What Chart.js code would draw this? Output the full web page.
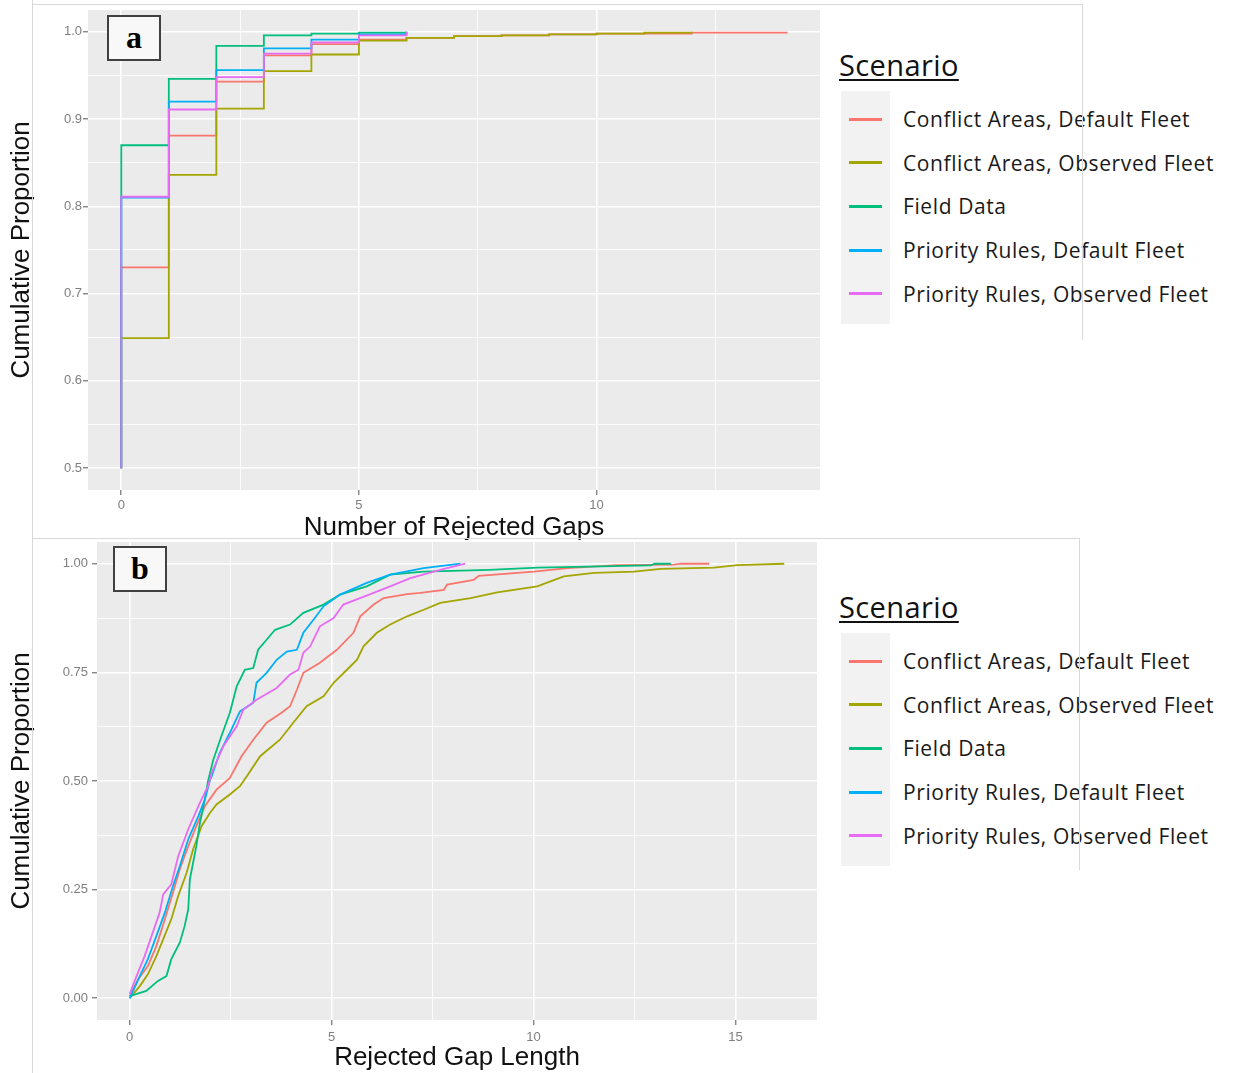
<!DOCTYPE html>
<html>
<head>
<meta charset="utf-8">
<title>Cumulative proportion of rejected gaps</title>
<script src="https://cdn.jsdelivr.net/npm/chart.js@4.4.1/dist/chart.umd.min.js"></script>
<style>
  body { margin: 0; background: #fff; }
  #wrap { position: relative; width: 1233px; height: 1073px; overflow: hidden; font-family: "Liberation Sans", Arial, sans-serif; }
  canvas { position: absolute; left: 0; }
  #chartA { top: 0; }
  #chartB { top: 538px; }
  .frame { position: absolute; background: #d9d9d9; z-index: 3; }
  .tag { position: absolute; box-sizing: border-box; width: 54px; height: 46px; border: 2px solid #404040;
         background: #f8f8f8; font: bold 32px "Liberation Serif", "Times New Roman", serif; text-align: center;
         line-height: 40px; color: #000; z-index: 4; }
  .lg-title { position: absolute; left: 839px; font: 29px "Open Sans", sans-serif; color: #111;
              text-decoration: underline; text-decoration-thickness: 1.5px; text-underline-offset: 3px;
              line-height: 34px; height: 34px; letter-spacing: 0.4px; }
  .lg-box { position: absolute; left: 841px; width: 49px; height: 233px; background: #f2f2f2; }
  .lg-key { position: absolute; left: 849px; width: 33px; height: 3px; }
  .lg-label { position: absolute; left: 903px; font: 21px "Open Sans", sans-serif; color: #1a1a1a;
              line-height: 30px; height: 30px; white-space: nowrap; letter-spacing: 0.6px; }
</style>
</head>
<body>
<div id="wrap">
  <canvas id="chartA" width="830" height="545"></canvas>
  <canvas id="chartB" width="830" height="535"></canvas>
  <div class="tag" style="left:107px; top:15px;">a</div>
  <div class="tag" style="left:113px; top:546px;">b</div>
  <div class="frame" style="left:32px; top:0; width:1px; height:1073px;"></div>
  <div class="frame" style="left:32px; top:4px; width:1050px; height:1px;"></div>
  <div class="frame" style="left:1082px; top:4px; width:1px; height:336px;"></div>
  <div class="frame" style="left:32px; top:538px; width:1048px; height:1px;"></div>
  <div class="frame" style="left:1079px; top:539px; width:1px; height:331px;"></div>
</div>
<script>
// Scenarios (legend order) and ggplot hue colours
const scenarios = [
  "Conflict Areas, Default Fleet",
  "Conflict Areas, Observed Fleet",
  "Field Data",
  "Priority Rules, Default Fleet",
  "Priority Rules, Observed Fleet"
];
const scenarioColors = ["#F8766D", "#A3A500", "#00BF7D", "#00B0F6", "#E76BF3"];

// Panel a: ECDF of the number of rejected gaps (value at 0, 1, 2, ...)
const rejectedGaps = [0, 1, 2, 3, 4, 5, 6, 7, 8, 9, 10, 11, 12, 13, 14];
const ecdfFloorA = 0.5;
const gapsConflictDefault  = [0.730, 0.881, 0.943, 0.973, 0.986, 0.991, 0.993, 0.995, 0.996, 0.997, 0.998, 0.998, 0.999, 0.999, 1.000];
const gapsConflictObserved = [0.649, 0.836, 0.912, 0.955, 0.974, 0.990, 0.993, 0.995, 0.996, 0.997, 0.998, 0.999, 1.000];
const gapsFieldData        = [0.870, 0.946, 0.984, 0.996, 0.998, 0.999, 1.000];
const gapsPriorityDefault  = [0.810, 0.920, 0.956, 0.981, 0.991, 0.997, 1.000];
const gapsPriorityObserved = [0.811, 0.911, 0.948, 0.975, 0.988, 0.996, 1.000];

// Panel b: ECDF of rejected gap length
const lenConflictDefaultX  = [0, 0.21, 0.45, 0.66, 0.87, 1.07, 1.24, 1.45, 1.65, 1.86, 2.15, 2.48, 2.77, 3.06, 3.39, 3.76, 3.97, 4.14, 4.30, 4.71, 5.13, 5.54, 5.71, 6.04, 6.29, 6.87, 7.20, 7.78, 7.86, 8.52, 8.64, 10.01, 10.84, 12.08, 13.48, 13.65, 14.35];
const lenConflictDefaultY  = [0.005, 0.044, 0.074, 0.120, 0.182, 0.243, 0.297, 0.350, 0.396, 0.442, 0.480, 0.507, 0.557, 0.595, 0.634, 0.657, 0.672, 0.710, 0.749, 0.772, 0.802, 0.841, 0.879, 0.906, 0.921, 0.930, 0.933, 0.940, 0.952, 0.963, 0.972, 0.982, 0.990, 0.997, 0.998, 1.000, 1.000];
const lenConflictObservedX = [0, 0.25, 0.45, 0.66, 0.83, 1.03, 1.20, 1.41, 1.57, 1.78, 1.99, 2.15, 2.48, 2.73, 2.90, 3.23, 3.72, 4.05, 4.38, 4.80, 5.05, 5.38, 5.63, 5.79, 6.12, 6.45, 6.87, 7.28, 7.69, 8.44, 9.10, 10.09, 10.75, 11.50, 12.49, 13.15, 14.47, 15.05, 16.21];
const lenConflictObservedY = [0, 0.028, 0.055, 0.097, 0.136, 0.182, 0.235, 0.289, 0.343, 0.396, 0.427, 0.446, 0.469, 0.488, 0.511, 0.557, 0.595, 0.634, 0.672, 0.695, 0.726, 0.756, 0.779, 0.810, 0.841, 0.860, 0.879, 0.894, 0.910, 0.921, 0.934, 0.948, 0.971, 0.979, 0.982, 0.988, 0.991, 0.997, 1.000];
const lenFieldDataX        = [0, 0.41, 0.70, 0.91, 1.03, 1.24, 1.36, 1.45, 1.49, 1.65, 1.74, 1.86, 1.94, 2.07, 2.27, 2.48, 2.65, 2.85, 3.06, 3.18, 3.39, 3.60, 3.97, 4.30, 4.80, 5.21, 5.87, 6.45, 7.28, 8.90, 10.10, 12.90, 13.00, 13.40];
const lenFieldDataY        = [0.005, 0.017, 0.040, 0.051, 0.090, 0.128, 0.166, 0.205, 0.274, 0.350, 0.404, 0.457, 0.500, 0.549, 0.603, 0.657, 0.718, 0.756, 0.760, 0.802, 0.825, 0.848, 0.860, 0.887, 0.906, 0.929, 0.948, 0.975, 0.982, 0.986, 0.991, 0.996, 1.000, 1.000];
const lenPriorityDefaultX  = [0, 0.25, 0.45, 0.66, 0.87, 1.07, 1.24, 1.45, 1.70, 1.86, 1.99, 2.03, 2.23, 2.48, 2.73, 3.06, 3.14, 3.39, 3.64, 3.89, 4.14, 4.30, 4.55, 4.80, 5.21, 5.87, 6.45, 7.28, 8.19];
const lenPriorityDefaultY  = [0, 0.051, 0.090, 0.143, 0.197, 0.258, 0.304, 0.366, 0.419, 0.457, 0.503, 0.511, 0.565, 0.611, 0.660, 0.680, 0.726, 0.749, 0.779, 0.798, 0.802, 0.841, 0.871, 0.902, 0.929, 0.956, 0.975, 0.990, 1.000];
const lenPriorityObservedX = [0, 0.17, 0.37, 0.54, 0.74, 0.83, 1.03, 1.20, 1.45, 1.74, 1.94, 2.03, 2.32, 2.65, 2.81, 3.14, 3.64, 3.97, 4.18, 4.30, 4.47, 4.71, 5.05, 5.29, 6.04, 6.45, 6.95, 7.69, 8.31];
const lenPriorityObservedY = [0.010, 0.051, 0.097, 0.143, 0.197, 0.239, 0.262, 0.327, 0.389, 0.450, 0.488, 0.519, 0.580, 0.626, 0.664, 0.687, 0.714, 0.745, 0.756, 0.795, 0.810, 0.856, 0.875, 0.906, 0.933, 0.948, 0.967, 0.986, 1.000];

// Axis ticks (major labelled, minor only as grid lines)
const gapsXMajor = [0, 5, 10];
const gapsXMinor = [2.5, 7.5, 12.5];
const gapsYMajor = [0.5, 0.6, 0.7, 0.8, 0.9, 1.0];
const gapsYMinor = [0.55, 0.65, 0.75, 0.85, 0.95];
const lenXMajor = [0, 5, 10, 15];
const lenXMinor = [2.5, 7.5, 12.5];
const lenYMajor = [0, 0.25, 0.5, 0.75, 1.0];
const lenYMinor = [0.125, 0.375, 0.625, 0.875];

const baseFont = "'Liberation Sans', Arial, sans-serif";
const tickGrey = "#7f7f7f";

// grey ggplot panel behind the chart area
const panelBg = {
  id: "panelBg",
  beforeDraw(chart) {
    const { ctx, chartArea: a } = chart;
    ctx.save();
    ctx.fillStyle = "#ebebeb";
    ctx.fillRect(a.left, a.top, a.right - a.left, a.bottom - a.top);
    ctx.restore();
  }
};

function isIn(list, v) {
  return list.some(m => Math.abs(m - v) < 1e-9);
}

function axis(opts) {
  const all = opts.major.concat(opts.minor).sort((p, q) => p - q);
  return {
    type: "linear",
    min: opts.min,
    max: opts.max,
    afterBuildTicks: s => { s.ticks = all.map(v => ({ value: v })); },
    afterFit: s => {
      if (opts.width) { s.width = opts.width; s.paddingTop = 0; s.paddingBottom = 0; }
      if (opts.height) { s.height = opts.height; s.paddingLeft = 0; s.paddingRight = 0; }
    },
    ticks: {
      autoSkip: false,
      maxRotation: 0,
      padding: opts.padding,
      color: tickGrey,
      font: { family: baseFont, size: 13 },
      callback: v => isIn(opts.major, v) ? opts.fmt(v) : ""
    },
    grid: {
      color: "#ffffff",
      lineWidth: c => isIn(opts.major, c.tick.value) ? 1.6 : 0.8,
      tickLength: 5,
      tickWidth: 1,
      tickColor: c => isIn(opts.major, c.tick.value) ? "#555555" : "rgba(0,0,0,0)"
    },
    border: { display: false },
    title: {
      display: true,
      text: opts.title,
      color: "#111111",
      font: { family: baseFont, size: 26 },
      padding: opts.titlePad
    }
  };
}

function lineSet(i, points, stepped) {
  return {
    label: scenarios[i],
    data: points,
    borderColor: scenarioColors[i],
    borderWidth: 1.8,
    pointRadius: 0,
    tension: 0,
    stepped: stepped,
    order: scenarios.length - 1 - i
  };
}

// Panel a
const gapSeries = [gapsConflictDefault, gapsConflictObserved, gapsFieldData, gapsPriorityDefault, gapsPriorityObserved];
new Chart(document.getElementById("chartA"), {
  type: "line",
  data: {
    datasets: gapSeries.map((vals, i) =>
      lineSet(i, [{ x: rejectedGaps[0], y: ecdfFloorA }].concat(vals.map((v, k) => ({ x: rejectedGaps[k], y: v }))), "before"))
  },
  options: {
    responsive: false,
    animation: false,
    layout: { padding: { top: 10, right: 10, left: 0, bottom: 0 } },
    plugins: { legend: { display: false }, tooltip: { enabled: false } },
    scales: {
      x: axis({ min: -0.7, max: 14.7, major: gapsXMajor, minor: gapsXMinor, height: 55, padding: 3,
                fmt: v => String(v), title: "Number of Rejected Gaps", titlePad: { top: 0, bottom: 2 } }),
      y: axis({ min: 0.475, max: 1.025, major: gapsYMajor, minor: gapsYMinor, width: 88, padding: 1,
                fmt: v => v.toFixed(1), title: "Cumulative Proportion", titlePad: { top: 6, bottom: 0 } })
    }
  },
  plugins: [panelBg]
});

// Panel b
const lenSeriesX = [lenConflictDefaultX, lenConflictObservedX, lenFieldDataX, lenPriorityDefaultX, lenPriorityObservedX];
const lenSeriesY = [lenConflictDefaultY, lenConflictObservedY, lenFieldDataY, lenPriorityDefaultY, lenPriorityObservedY];
new Chart(document.getElementById("chartB"), {
  type: "line",
  data: {
    datasets: lenSeriesX.map((xs, i) =>
      lineSet(i, xs.map((x, k) => ({ x: x, y: lenSeriesY[i][k] })), false))
  },
  options: {
    responsive: false,
    animation: false,
    layout: { padding: { top: 4, right: 13, left: 0, bottom: 0 } },
    plugins: { legend: { display: false }, tooltip: { enabled: false } },
    scales: {
      x: axis({ min: -0.81, max: 17.02, major: lenXMajor, minor: lenXMinor, height: 53, padding: 5,
                fmt: v => String(v), title: "Rejected Gap Length", titlePad: { top: 0, bottom: 0 } }),
      y: axis({ min: -0.05, max: 1.05, major: lenYMajor, minor: lenYMinor, width: 97, padding: 4,
                fmt: v => v.toFixed(2), title: "Cumulative Proportion", titlePad: { top: 6, bottom: 0 } })
    }
  },
  plugins: [panelBg]
});

// HTML legends to the right of each panel
function buildLegend(boxTop) {
  const wrap = document.getElementById("wrap");
  const title = document.createElement("div");
  title.className = "lg-title";
  title.style.top = (boxTop - 43) + "px";
  title.textContent = "Scenario";
  wrap.appendChild(title);
  const box = document.createElement("div");
  box.className = "lg-box";
  box.style.top = boxTop + "px";
  wrap.appendChild(box);
  scenarios.forEach((name, i) => {
    const cy = boxTop + 28 + 43.7 * i;
    const key = document.createElement("div");
    key.className = "lg-key";
    key.style.top = (cy - 1.5) + "px";
    key.style.background = scenarioColors[i];
    wrap.appendChild(key);
    const lab = document.createElement("div");
    lab.className = "lg-label";
    lab.style.top = (cy - 15) + "px";
    lab.textContent = name;
    wrap.appendChild(lab);
  });
}
buildLegend(91);
buildLegend(633);
</script>
</body>
</html>
